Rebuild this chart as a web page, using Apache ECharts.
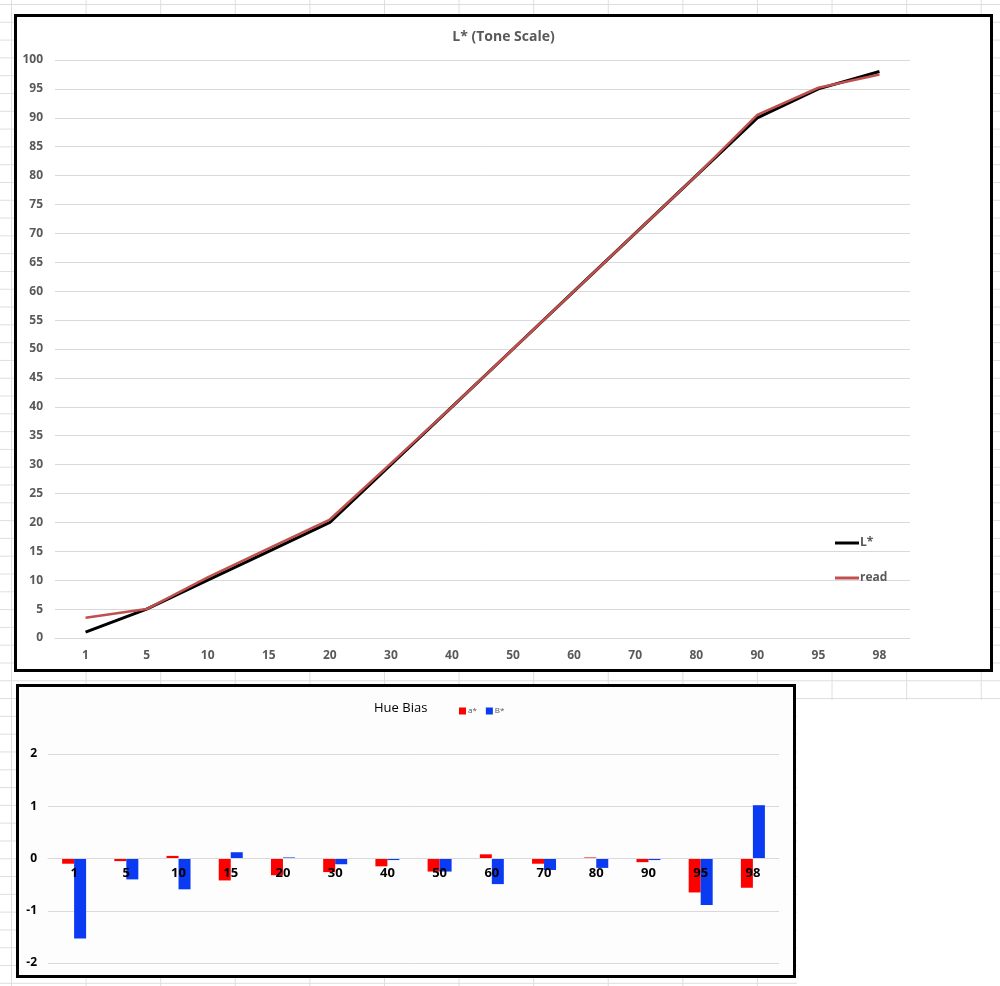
<!DOCTYPE html>
<html>
<head>
<meta charset="utf-8">
<script src="https://cdn.jsdelivr.net/npm/echarts@6/dist/echarts.min.js"></script>
<style>
  html, body { margin: 0; padding: 0; }
  body {
    width: 1000px; height: 986px; position: relative; overflow: hidden;
    background-color: #ffffff;
    background-image: linear-gradient(to right, #dedede 1px, transparent 1px),
                      linear-gradient(to bottom, #dedede 1px, transparent 1px);
    background-size: 74.6px 17.8px, 74.6px 17.8px;
    background-position: 11px 0, 0 4px;
  }
  #cover { position: absolute; left: 797px; top: 700px; width: 203px; height: 286px; background: #fff; }
  .box { position: absolute; box-sizing: border-box; border: 3px solid #000; background: #fff; }
  #b1 { left: 14px; top: 14px; width: 979px; height: 658px; }
  #b2 { left: 16px; top: 684px; width: 780px; height: 294px; background: #fdfdfe; }
  .chart { width: 100%; height: 100%; }
</style>
</head>
<body>
<div id="cover"></div>
<div class="box" id="b1"><div class="chart" id="c1"></div></div>
<div class="box" id="b2"><div class="chart" id="c2"></div></div>
<script>
// ---- data ----
const categories = ['1', '5', '10', '15', '20', '30', '40', '50', '60', '70', '80', '90', '95', '98'];
const lStar = [1, 5, 10, 15, 20, 30, 40, 50, 60, 70, 80, 90, 95, 98];
const readL = [3.5, 5, 10.5, 15.5, 20.5, 30.2, 40, 50, 60, 70, 80, 90.5, 95.2, 97.5];
const aStar = [-0.10, -0.05, 0.05, -0.42, -0.32, -0.26, -0.15, -0.25, 0.08, -0.10, 0.02, -0.07, -0.65, -0.56];
const bStar = [-1.53, -0.40, -0.59, 0.12, 0.02, -0.11, -0.03, -0.25, -0.49, -0.22, -0.18, -0.03, -0.89, 1.02];
const title1 = 'L* (Tone Scale)';
const title2 = 'Hue Bias';
const hueMin = -2, hueMax = 2;

const font = '"Open Sans", "Liberation Sans", sans-serif';
const gridColor = '#d9d9d9';

const c1 = echarts.init(document.getElementById('c1'), null, { renderer: 'canvas' });
c1.setOption({
  animation: false,
  title: {
    text: title1, left: 'center', top: 8,
    textStyle: { fontFamily: font, fontSize: 14, fontWeight: 'bold', color: '#595959' }
  },
  legend: {
    orient: 'vertical', left: 813, top: 515, itemGap: 23,
    itemWidth: 24, itemHeight: 14, icon: 'path://M0,6 L24,6 L24,9 L0,9 Z',
    textStyle: { fontFamily: font, fontSize: 12, fontWeight: 'bold', color: '#595959', padding: [0, 0, 0, -4] },
    data: ['L*', 'read']
  },
  grid: { left: 38, right: 80, top: 43, bottom: 31, outerBoundsMode: 'none' },
  xAxis: {
    type: 'category', data: categories, boundaryGap: true,
    axisLine: { show: true, lineStyle: { color: gridColor } },
    axisTick: { show: false },
    axisLabel: { margin: 12, fontFamily: font, fontSize: 12, fontWeight: 'bold', color: '#595959' }
  },
  yAxis: {
    type: 'value', min: 0, max: 100, interval: 5,
    axisLine: { show: false }, axisTick: { show: false },
    splitLine: { lineStyle: { color: gridColor } },
    axisLabel: { margin: 12, fontFamily: font, fontSize: 12, fontWeight: 'bold', color: '#595959' }
  },
  series: [
    { name: 'L*', type: 'line', data: lStar, symbol: 'none', lineStyle: { color: '#000000', width: 3 }, itemStyle: { color: '#000000' }, z: 2 },
    { name: 'read', type: 'line', data: readL, symbol: 'none', lineStyle: { color: '#c0504d', width: 2.5 }, itemStyle: { color: '#c0504d' }, z: 3 }
  ]
});

const c2El = document.getElementById('c2');
const g2 = { left: 29, right: 14, top: 67, bottom: 12 };
const plotH2 = c2El.clientHeight - g2.top - g2.bottom;
// place the category axis (with its labels) at value 0, as in the reference
const zeroOffset = -plotH2 * (0 - hueMin) / (hueMax - hueMin);

const c2 = echarts.init(c2El, null, { renderer: 'canvas' });
c2.setOption({
  animation: false,
  title: {
    text: title2, left: 350, top: 10,
    textStyle: { fontFamily: font, fontSize: 13, fontWeight: 'normal', color: '#000000' }
  },
  legend: {
    left: 435, top: 15, itemGap: 9, itemWidth: 7, itemHeight: 7, icon: 'rect',
    textStyle: { fontFamily: font, fontSize: 8, color: '#555555', padding: [0, 0, 0, -3] },
    data: ['a*', 'B*']
  },
  grid: Object.assign({ outerBoundsMode: 'none' }, g2),
  xAxis: {
    type: 'category', data: categories, boundaryGap: true, z: 10,
    offset: zeroOffset,
    axisLine: { show: true, onZero: false, lineStyle: { color: gridColor } },
    axisTick: { show: false },
    axisLabel: { margin: 8, fontFamily: font, fontSize: 13, fontWeight: 'bold', color: '#000000' }
  },
  yAxis: {
    type: 'value', min: hueMin, max: hueMax, interval: 1,
    axisLine: { show: false }, axisTick: { show: false },
    splitLine: { lineStyle: { color: gridColor } },
    axisLabel: { margin: 11, fontFamily: font, fontSize: 12, fontWeight: 'bold', color: '#000000' }
  },
  series: [
    { name: 'a*', type: 'bar', data: aStar, barWidth: 12, barGap: '0%', itemStyle: { color: '#ff0000' } },
    { name: 'B*', type: 'bar', data: bStar, barWidth: 12, barGap: '0%', itemStyle: { color: '#0a3af2' } }
  ]
});
</script>
</body>
</html>
